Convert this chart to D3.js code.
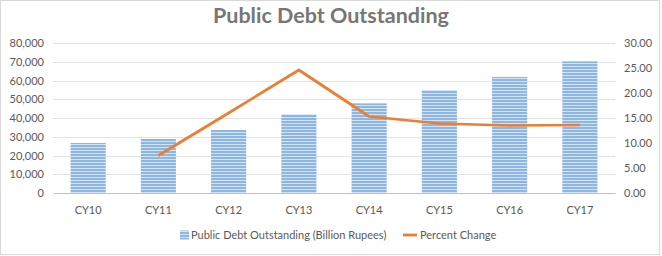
<!DOCTYPE html>
<html>
<head>
<meta charset="utf-8">
<script src="https://cdn.jsdelivr.net/npm/d3@7"></script>
<style>
  body { margin: 0; background: #fff; }
  svg { display: block; font-family: Lato, "Open Sans", sans-serif; }
</style>
</head>
<body>
<div id="chart"></div>
<script>
// chart values
const years = ["CY10", "CY11", "CY12", "CY13", "CY14", "CY15", "CY16", "CY17"];
const debt = [26700, 28800, 33600, 42000, 47800, 54900, 61900, 70200];
const pctChange = [null, 7.5, 16.0, 24.6, 15.3, 13.9, 13.5, 13.6];
const leftTicks = [0, 10000, 20000, 30000, 40000, 50000, 60000, 70000, 80000];
const rightTicks = [0, 5, 10, 15, 20, 25, 30];

const layout = {
    width: 662,
    height: 256,
    marginLeft: 53,
    marginRight: 47,
    marginTop: 43,
    marginBottom: 63
};
const chartW = layout.width - layout.marginLeft - layout.marginRight;
const chartH = layout.height - layout.marginTop - layout.marginBottom;

const svg = d3.select("#chart").append("svg")
    .attr("width", layout.width)
    .attr("height", layout.height);

// chart area border
svg.append("rect")
    .attr("x", 0.5).attr("y", 0.5)
    .attr("width", 659).attr("height", 254)
    .attr("fill", "#fff")
    .attr("stroke", "#d9d9d9");

// striped bar fill
const defs = svg.append("defs");
const pat = defs.append("pattern")
    .attr("id", "stripes")
    .attr("patternUnits", "userSpaceOnUse")
    .attr("width", 6).attr("height", 3);
pat.append("rect").attr("width", 6).attr("height", 3).attr("fill", "#d3e3f4");
pat.append("rect").attr("width", 6).attr("height", 2).attr("fill", "#8db7e2");

const x = d3.scaleBand().domain(years).range([0, chartW]).paddingInner(0.5).paddingOuter(0.25);
const yLeft = d3.scaleLinear().domain([0, 80000]).range([chartH, 0]);
const yRight = d3.scaleLinear().domain([0, 30]).range([chartH, 0]);

const g = svg.append("g")
    .attr("transform", `translate(${layout.marginLeft},${layout.marginTop})`);

// gridlines
g.append("g")
    .selectAll("line")
    .data(leftTicks.slice(1))
    .join("line")
    .attr("x1", 0).attr("x2", chartW)
    .attr("y1", d => Math.round(yLeft(d)) + 0.5)
    .attr("y2", d => Math.round(yLeft(d)) + 0.5)
    .attr("stroke", "#e3e3e3");

// left axis
const leftAxis = g.append("g")
    .attr("transform", "translate(-6,0)")
    .call(d3.axisLeft(yLeft).tickValues(leftTicks).tickSize(0).tickFormat(d3.format(",")));
leftAxis.select(".domain").remove();
leftAxis.selectAll("text")
    .attr("fill", "#595959")
    .attr("font-size", 11)
    .attr("font-family", "Lato, sans-serif");

// right axis
const rightAxis = g.append("g")
    .attr("transform", `translate(${chartW + 6},0)`)
    .call(d3.axisRight(yRight).tickValues(rightTicks).tickSize(0).tickFormat(d3.format(".2f")));
rightAxis.select(".domain").remove();
rightAxis.selectAll("text")
    .attr("fill", "#595959")
    .attr("font-size", 11)
    .attr("font-family", "Lato, sans-serif");

// bars
g.append("g")
    .selectAll("rect")
    .data(years.map((y, i) => ({ year: y, val: debt[i] })))
    .join("rect")
    .attr("x", d => x(d.year))
    .attr("y", d => yLeft(d.val))
    .attr("width", x.bandwidth())
    .attr("height", d => chartH - yLeft(d.val))
    .attr("fill", "url(#stripes)");

// category axis
const xAxis = g.append("g")
    .attr("transform", `translate(0,${chartH})`)
    .call(d3.axisBottom(x).tickSize(0).tickPadding(13));
xAxis.select(".domain").attr("stroke", "#bfbfbf").attr("stroke-width", 1.2);
xAxis.selectAll("text")
    .attr("fill", "#595959")
    .attr("font-size", 11)
    .attr("font-family", "Lato, sans-serif");

// percent change line
const linePts = years.map((y, i) => ({ year: y, val: pctChange[i] })).filter(d => d.val !== null);
g.append("path")
    .datum(linePts)
    .attr("fill", "none")
    .attr("stroke", "#ed7d31")
    .attr("stroke-width", 2.75)
    .attr("stroke-linejoin", "round")
    .attr("d", d3.line()
        .x(d => x(d.year) + x.bandwidth() / 2)
        .y(d => yRight(d.val)));

// title
svg.append("text")
    .attr("x", 331)
    .attr("y", 23)
    .attr("text-anchor", "middle")
    .attr("font-size", 21.5)
    .attr("font-weight", "bold")
    .attr("fill", "#767676")
    .text("Public Debt Outstanding");

// legend
const legend = svg.append("g").attr("transform", "translate(0,235)");
legend.append("rect")
    .attr("x", 180).attr("y", -4.5)
    .attr("width", 9).attr("height", 9)
    .attr("fill", "url(#stripes)");
legend.append("text")
    .attr("x", 191).attr("y", 4)
    .attr("font-size", 11)
    .attr("fill", "#595959")
    .text("Public Debt Outstanding (Billion Rupees)");
legend.append("line")
    .attr("x1", 403).attr("x2", 417)
    .attr("y1", 0).attr("y2", 0)
    .attr("stroke", "#ed7d31")
    .attr("stroke-width", 2.75);
legend.append("text")
    .attr("x", 420).attr("y", 4)
    .attr("font-size", 11)
    .attr("fill", "#595959")
    .text("Percent Change");
</script>
</body>
</html>
